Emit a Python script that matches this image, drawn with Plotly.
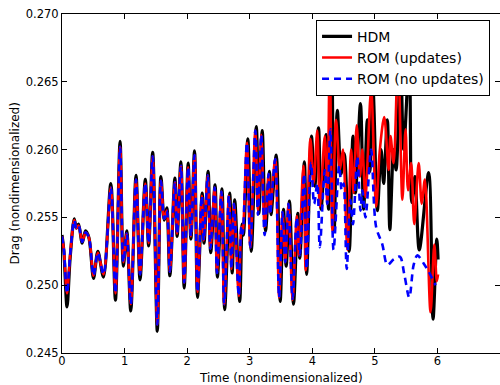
import plotly.graph_objects as go

# Drag history: full-order model (HDM) and two reduced-order models
hdm_t = [0.00, 0.03, 0.08, 0.13, 0.196, 0.23, 0.265, 0.323, 0.376, 0.43, 0.504, 0.573, 0.663,
         0.780, 0.854, 0.928, 0.981, 1.035, 1.099, 1.183, 1.247, 1.331, 1.385, 1.449, 1.523,
         1.581, 1.634, 1.675, 1.724, 1.804, 1.84, 1.90, 1.953, 2.016, 2.06, 2.118, 2.166,
         2.24, 2.27, 2.335, 2.377, 2.446, 2.484, 2.557, 2.60, 2.68, 2.72, 2.76, 2.84, 2.88,
         2.90, 2.97, 3.025, 3.105, 3.147, 3.20, 3.253, 3.317, 3.34, 3.424, 3.487, 3.54,
         3.583, 3.635, 3.70, 3.768, 3.80, 3.874, 3.91, 3.986, 4.04, 4.10, 4.14, 4.22, 4.26,
         4.31, 4.35, 4.40, 4.46, 4.51, 4.59, 4.65, 4.69, 4.77, 4.82, 4.88, 4.92, 4.97, 5.04,
         5.10, 5.14, 5.20, 5.24, 5.30, 5.34, 5.41, 5.46, 5.55, 5.59, 5.64, 5.71, 5.86, 5.93,
         5.99, 6.01]
hdm_drag = [0.2537, 0.2525, 0.2484, 0.2520, 0.2549, 0.2542, 0.2545, 0.2531, 0.2540, 0.2535,
            0.2505, 0.2525, 0.2506, 0.2575, 0.2489, 0.2606, 0.2514, 0.2540, 0.2481, 0.2581,
            0.2504, 0.2578, 0.2529, 0.2598, 0.2466, 0.2580, 0.2548, 0.2557, 0.2507, 0.2579,
            0.2536, 0.2591, 0.2498, 0.2590, 0.2534, 0.2599, 0.2491, 0.2568, 0.2531, 0.2584,
            0.2524, 0.2574, 0.2506, 0.2571, 0.2482, 0.2568, 0.2509, 0.2563, 0.2488, 0.2545,
            0.2537, 0.2608, 0.2525, 0.2617, 0.2553, 0.2614, 0.2540, 0.2584, 0.2552, 0.2596,
            0.2488, 0.2556, 0.2514, 0.2562, 0.2486, 0.2553, 0.2520, 0.2591, 0.2508, 0.2610,
            0.2573, 0.2616, 0.2556, 0.2611, 0.2556, 0.2668, 0.2540, 0.2629, 0.2582, 0.2597,
            0.2525, 0.2610, 0.2568, 0.2634, 0.2556, 0.2622, 0.2584, 0.2645, 0.2555, 0.2600,
            0.2575, 0.2622, 0.2541, 0.2600, 0.2585, 0.2668, 0.2600, 0.2668, 0.2561, 0.2580,
            0.2526, 0.2583, 0.2475, 0.2534, 0.2519]

upd_t = [0.00, 0.03, 0.08, 0.13, 0.196, 0.23, 0.265, 0.323, 0.376, 0.43, 0.504, 0.573, 0.663,
         0.780, 0.854, 0.928, 0.981, 1.035, 1.099, 1.183, 1.247, 1.331, 1.385, 1.449, 1.523,
         1.581, 1.634, 1.675, 1.724, 1.804, 1.84, 1.90, 1.953, 2.016, 2.06, 2.118, 2.166,
         2.235, 2.265, 2.33, 2.372, 2.44, 2.477, 2.548, 2.592, 2.668, 2.708, 2.748, 2.826,
         2.866, 2.887, 2.955, 3.01, 3.09, 3.132, 3.185, 3.238, 3.302, 3.325, 3.408, 3.47,
         3.525, 3.568, 3.62, 3.685, 3.752, 3.785, 3.858, 3.895, 3.97, 4.02, 4.08, 4.12, 4.20,
         4.24, 4.28, 4.32, 4.38, 4.44, 4.49, 4.56, 4.62, 4.66, 4.71, 4.76, 4.80, 4.85, 4.94,
         5.02, 5.08, 5.15, 5.22, 5.25, 5.30, 5.37, 5.44, 5.49, 5.53, 5.58, 5.63, 5.70, 5.75,
         5.80, 5.89, 5.95, 5.99, 6.01]
upd_drag = [0.2536, 0.2526, 0.2494, 0.2522, 0.2548, 0.2542, 0.2544, 0.2532, 0.2539, 0.2535,
            0.2507, 0.2524, 0.2508, 0.2572, 0.2494, 0.2602, 0.2517, 0.2538, 0.2486, 0.2578,
            0.2508, 0.2575, 0.2531, 0.2595, 0.2471, 0.2577, 0.2549, 0.2555, 0.2510, 0.2576,
            0.2538, 0.2588, 0.2502, 0.2587, 0.2536, 0.2596, 0.2495, 0.2566, 0.2533, 0.2581,
            0.2527, 0.2572, 0.2509, 0.2569, 0.2486, 0.2566, 0.2512, 0.2560, 0.2492, 0.2543,
            0.2538, 0.2605, 0.2528, 0.2614, 0.2555, 0.2611, 0.2543, 0.2582, 0.2554, 0.2593,
            0.2491, 0.2554, 0.2517, 0.2560, 0.2489, 0.2551, 0.2522, 0.2588, 0.2511, 0.2608,
            0.2575, 0.2614, 0.2558, 0.2610, 0.2560, 0.2668, 0.2540, 0.2622, 0.2585, 0.2600,
            0.2526, 0.2600, 0.2568, 0.2618, 0.2580, 0.2600, 0.2565, 0.2644, 0.2558, 0.2600,
            0.2624, 0.2585, 0.2610, 0.2590, 0.2668, 0.2563, 0.2615, 0.2570, 0.2590, 0.2545,
            0.2590, 0.2560, 0.2578, 0.2480, 0.2530, 0.2503, 0.2508]

noupd_t = [0.00, 0.03, 0.08, 0.13, 0.196, 0.23, 0.265, 0.323, 0.376, 0.43, 0.504, 0.573, 0.663,
           0.780, 0.854, 0.928, 0.981, 1.035, 1.099, 1.183, 1.247, 1.331, 1.385, 1.449, 1.523,
           1.581, 1.634, 1.675, 1.724, 1.804, 1.84, 1.90, 1.953, 2.016, 2.06, 2.118, 2.166,
           2.235, 2.265, 2.33, 2.372, 2.44, 2.477, 2.548, 2.592, 2.668, 2.708, 2.748, 2.826,
           2.866, 2.887, 2.955, 3.01, 3.09, 3.132, 3.185, 3.238, 3.302, 3.325, 3.408, 3.47,
           3.525, 3.568, 3.62, 3.685, 3.752, 3.80, 3.87, 3.91, 3.98, 4.03, 4.08, 4.12, 4.20,
           4.24, 4.29, 4.34, 4.43, 4.47, 4.50, 4.55, 4.61, 4.65, 4.72, 4.77, 4.80, 4.85, 4.94,
           5.02, 5.12, 5.20, 5.30, 5.40, 5.47, 5.55, 5.62, 5.68, 5.78, 5.86, 5.97]
noupd_drag = [0.2536, 0.2526, 0.2494, 0.2522, 0.2548, 0.2542, 0.2544, 0.2532, 0.2539, 0.2535,
              0.2507, 0.2524, 0.2508, 0.2572, 0.2494, 0.2602, 0.2517, 0.2538, 0.2486, 0.2578,
              0.2508, 0.2575, 0.2531, 0.2595, 0.2471, 0.2577, 0.2549, 0.2555, 0.2510, 0.2576,
              0.2538, 0.2588, 0.2502, 0.2587, 0.2536, 0.2596, 0.2495, 0.2566, 0.2533, 0.2581,
              0.2527, 0.2572, 0.2509, 0.2569, 0.2486, 0.2566, 0.2512, 0.2560, 0.2492, 0.2543,
              0.2538, 0.2605, 0.2528, 0.2614, 0.2552, 0.2611, 0.2537, 0.2582, 0.2552, 0.2593,
              0.2491, 0.2554, 0.2517, 0.2560, 0.2490, 0.2550, 0.2522, 0.2582, 0.2512, 0.2590,
              0.2560, 0.2575, 0.2528, 0.2585, 0.2560, 0.2615, 0.2526, 0.2588, 0.2570, 0.2575,
              0.2512, 0.2563, 0.2545, 0.2595, 0.2555, 0.2570, 0.2550, 0.2600, 0.2543, 0.2530,
              0.2515, 0.2519, 0.2521, 0.2508, 0.2491, 0.2515, 0.2522, 0.2516, 0.2510, 0.2500]

x_ticks = [0, 1, 2, 3, 4, 5, 6, 7]
y_ticks = [0.245, 0.250, 0.255, 0.260, 0.265, 0.270]

FONT = "DejaVu Sans, Verdana, sans-serif"

fig = go.Figure()
fig.add_trace(go.Scatter(x=hdm_t, y=hdm_drag, name="HDM", mode="lines",
                         line=dict(color="black", width=3.2, shape="spline", smoothing=0.9)))
fig.add_trace(go.Scatter(x=upd_t, y=upd_drag, name="ROM (updates)", mode="lines",
                         line=dict(color="#ff0000", width=2.6, shape="spline", smoothing=0.9)))
fig.add_trace(go.Scatter(x=noupd_t, y=noupd_drag, name="ROM (no updates)", mode="lines",
                         line=dict(color="#0000ff", width=2.6, dash="7px,5px",
                                   shape="spline", smoothing=0.9)))

axis_common = dict(
    showline=True, linecolor="black", linewidth=1, mirror="ticks",
    ticks="inside", ticklen=5, tickwidth=1, tickcolor="black",
    showgrid=False, zeroline=False,
    tickfont=dict(family=FONT, size=11.5, color="black"),
)

fig.update_layout(
    width=500, height=385,
    margin=dict(l=62, r=0, t=14, b=32),
    paper_bgcolor="white", plot_bgcolor="white",
    font=dict(family=FONT, color="black"),
    showlegend=True,
    legend=dict(
        x=0.58, y=0.983, xanchor="left", yanchor="top",
        bgcolor="white", bordercolor="black", borderwidth=1,
        font=dict(family=FONT, size=14, color="black"),
        tracegroupgap=0, itemwidth=30,
    ),
    xaxis=dict(range=[0, 7], tickvals=x_ticks, ticktext=[str(v) for v in x_ticks],
               ticklabelstandoff=-3, **axis_common),
    yaxis=dict(range=[0.245, 0.270], tickvals=y_ticks,
               ticktext=[f"{v:.3f}" for v in y_ticks], **axis_common),
    annotations=[
        dict(text="Time (nondimensionalized)", xref="paper", yref="paper",
             x=0.5, y=0, yshift=-25, xanchor="center", yanchor="middle",
             showarrow=False, font=dict(family=FONT, size=12, color="black")),
        dict(text="Drag (nondimensionalized)", xref="paper", yref="paper",
             x=0, xshift=-48, y=0.5, xanchor="center", yanchor="middle",
             textangle=-90, showarrow=False,
             font=dict(family=FONT, size=12, color="black")),
    ],
)

fig.write_html("out.html")
